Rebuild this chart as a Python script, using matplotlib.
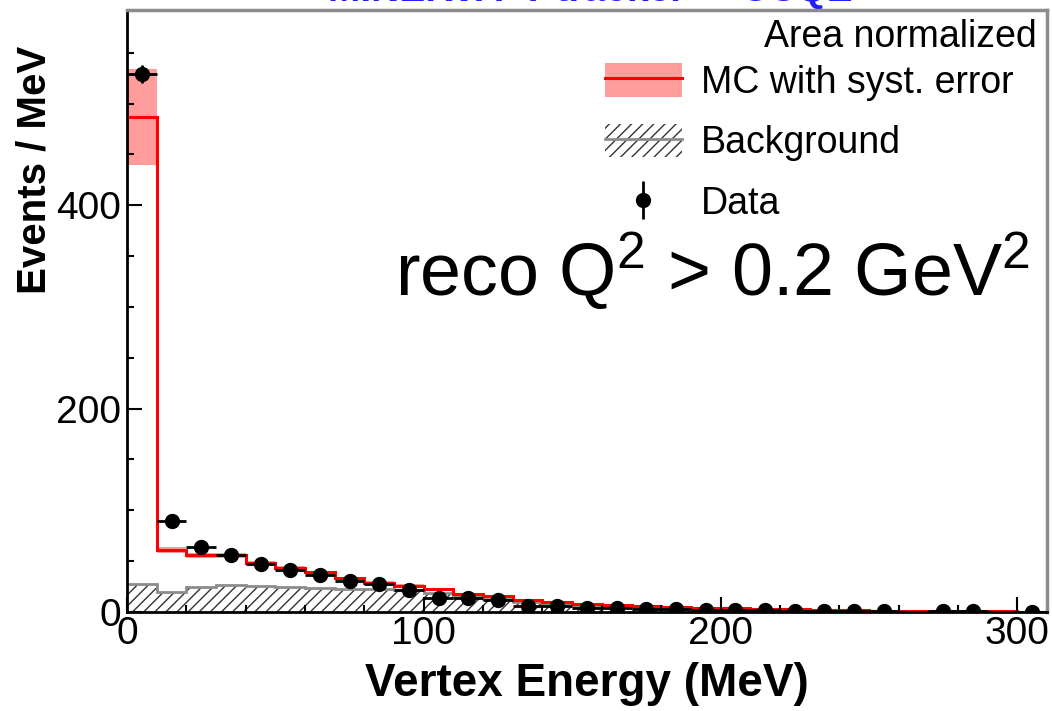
import numpy as np
import matplotlib
matplotlib.use("Agg")
import matplotlib.pyplot as plt
from matplotlib.patches import Patch
from matplotlib.lines import Line2D
from matplotlib.ticker import MultipleLocator

plt.rcParams['font.family'] = ['Liberation Sans', 'DejaVu Sans']
plt.rcParams['mathtext.fontset'] = 'custom'
plt.rcParams['mathtext.rm'] = 'Liberation Sans'
plt.rcParams['mathtext.default'] = 'regular'
plt.rcParams['hatch.linewidth'] = 1.0

# 10 MeV bins from 0 to 310 MeV
edges = np.arange(0, 320, 10)

mc = [487, 61, 56, 56, 48, 43, 39, 33, 29, 26,
      23, 18, 16, 12, 10, 8, 7, 6, 5, 4,
      3.5, 3, 2.5, 2, 1.7, 1.4, 1.0, 0.8, 0.6, 0.5, 0.4]
mc_err = [47, 3, 2.5, 2.5, 2.2, 2, 1.8, 1.5, 1.3, 1.2,
          1.0, 0.8, 0.7, 0.6, 0.5, 0.4, 0.4, 0.3, 0.3, 0.2,
          0.2, 0.2, 0.1, 0.1, 0.1, 0.1, 0.1, 0.05, 0.05, 0.05, 0.03]
bkg = [27.5, 20, 24.5, 26.5, 26, 24.5, 23.5, 23, 22.5, 21.5,
       19, 16, 13, 10, 8, 6, 5, 4, 3, 2.5,
       2, 1.6, 1.3, 1.0, 0.8, 0.6, 0.5, 0.4, 0.3, 0.3, 0.2]
data = [529, 89, 64, 56, 47, 41, 36, 30, 28, 22,
        14, 14, 12, 6, 6, 4, 3.5, 3, 2.5, 2,
        1.8, 1.5, 1.3, 1.1, 1.0, 0.8, np.nan, 0.5, 0.5, np.nan, 0.3]
data_err = [9, 3.5, 3, 2.8, 2.5, 2.3, 2.1, 1.9, 1.8, 1.6,
            1.3, 1.3, 1.2, 0.9, 0.9, 0.7, 0.7, 0.6, 0.6, 0.5,
            0.5, 0.4, 0.4, 0.4, 0.4, 0.3, np.nan, 0.3, 0.3, np.nan, 0.2]

mc = np.array(mc)
mc_err = np.array(mc_err)
centers = 0.5 * (edges[:-1] + edges[1:])
pink = '#ff9c9c'

fig = plt.figure(figsize=(10.52, 7.11), dpi=100)
ax = fig.add_axes([127/1052, 99/711, 920/1052, 602/711])

# MC band + central line
ax.stairs(mc + mc_err, edges, baseline=mc - mc_err, fill=True, color=pink, lw=0)
# background, hatched
ax.stairs(bkg, edges, fill=True, facecolor='none', edgecolor='0.2', hatch='///', lw=0)
ax.stairs(bkg, edges, baseline=None, color='0.55', lw=2)
ax.stairs(mc, edges, baseline=None, color='red', lw=2.2)
# data points
ax.errorbar(centers, data, xerr=5, yerr=data_err, fmt='o', color='k', ms=10,
            elinewidth=2, capsize=0)

ax.set_xlim(0, 310)
ax.set_ylim(0, 592)
ax.xaxis.set_major_locator(MultipleLocator(100))
ax.xaxis.set_minor_locator(MultipleLocator(20))
ax.yaxis.set_major_locator(MultipleLocator(200))
ax.yaxis.set_minor_locator(MultipleLocator(50))
ax.tick_params(which='both', direction='in', top=False, right=False, labelsize=28, width=1.5)
ax.tick_params(which='major', length=11)
ax.tick_params(which='minor', length=5)
ax.tick_params(axis='y', pad=4)
ax.tick_params(axis='x', pad=3)
for s in ['left', 'bottom']:
    ax.spines[s].set_color('k')
    ax.spines[s].set_linewidth(2)
for s in ['top', 'right']:
    ax.spines[s].set_color('0.55')
    ax.spines[s].set_linewidth(2.5)

ax.set_xlabel('Vertex Energy (MeV)', fontsize=33, fontweight='bold', labelpad=7)
fig.text(35/1052, 1 - 170/711, 'Events / MeV', rotation=90, ha='center', va='center',
         fontsize=29, fontweight='bold')

# legend
h_mc = (Patch(facecolor=pink, edgecolor='none'), Line2D([], [], color='red', lw=2.2))
h_bkg = (Patch(facecolor='white', edgecolor='0.2', hatch='///', lw=0),
         Line2D([], [], color='0.55', lw=2))
h_data = (Line2D([], [], marker='|', ms=28, mew=2, color='k', ls='none'),
          Line2D([], [], marker='o', ms=10, color='k', ls='none'))
ax.legend([h_mc, h_bkg, h_data], ['MC with syst. error', 'Background', 'Data'],
          loc='upper left', bbox_to_anchor=(0.5196, 0.912), frameon=False,
          fontsize=27, borderpad=0, borderaxespad=0, handlelength=2.05,
          handleheight=1.0, handletextpad=0.5, labelspacing=0.62)

ax.text(0.989, 0.985, 'Area normalized', transform=ax.transAxes, ha='right', va='top',
        fontsize=27)
ax.text(0.9815, 0.525, 'reco Q$^{2}$ > 0.2 GeV$^{2}$', transform=ax.transAxes,
        ha='right', va='baseline', fontsize=53)

fig.text(590/1052, 1 - 1/711, 'MINERvA  \u03bd tracker  + CCQE', color='#2020ff',
         ha='center', va='baseline', fontsize=28, fontweight='bold')

fig.savefig('out.png', dpi=100)
